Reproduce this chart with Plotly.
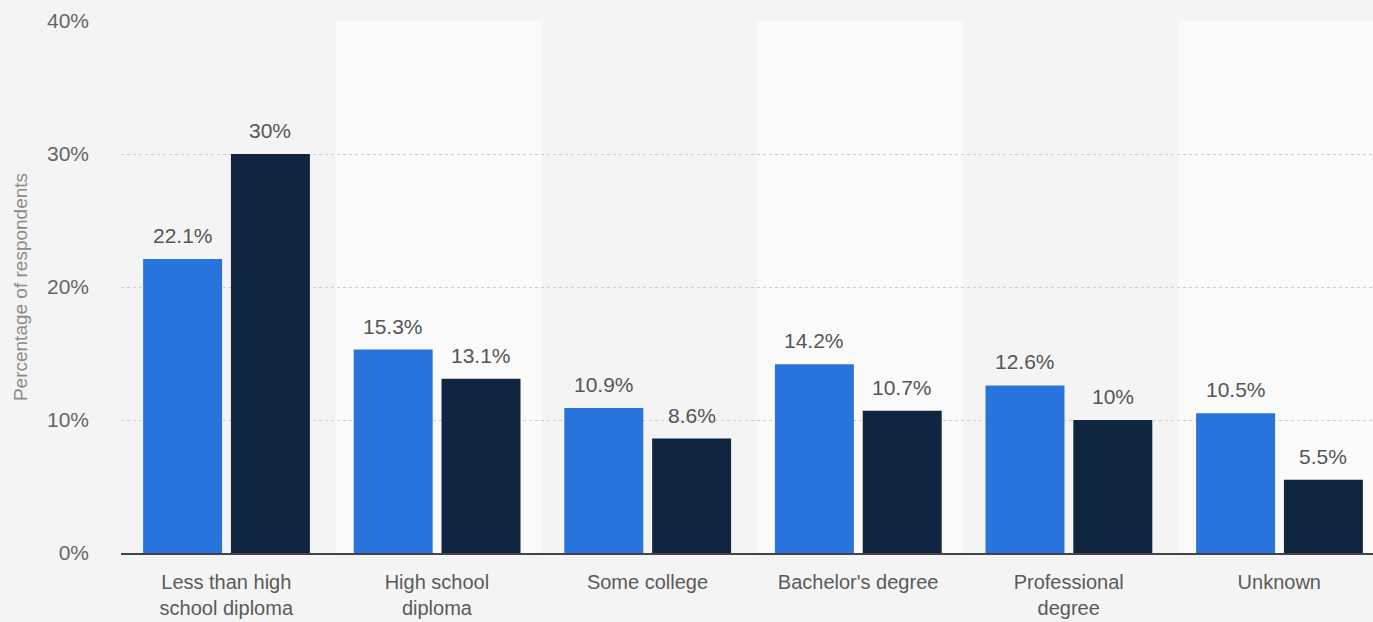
import plotly.graph_objects as go

categories = ["Less than high<br>school diploma", "High school<br>diploma", "Some college",
              "Bachelor's degree", "Professional<br>degree", "Unknown"]
series_a = [22.1, 15.3, 10.9, 14.2, 12.6, 10.5]
series_b = [30, 13.1, 8.6, 10.7, 10, 5.5]
y_ticks = [0, 10, 20, 30, 40]
y_tick_labels = ["0%", "10%", "20%", "30%", "40%"]

BLUE = "#2874dc"
DARK = "#10253f"
BG = "#f4f4f4"
BAND = "#fafafa"
FONT = "Liberation Sans, Arial, sans-serif"
BAR_W = 0.375
OFFS = [-0.395, 0.022]

xs = list(range(len(categories)))
fig = go.Figure()
annotations = []
for vals, color, off in [(series_a, BLUE, OFFS[0]), (series_b, DARK, OFFS[1])]:
    fig.add_trace(go.Bar(x=xs, y=vals, marker_color=color, marker_line_width=0,
                         width=BAR_W, offset=off, hoverinfo="skip"))
    for i, v in zip(xs, vals):
        annotations.append(dict(x=i + off + BAR_W / 2, y=v, xref="x", yref="y",
                                text=f"{v:g}%", showarrow=False, yanchor="bottom",
                                yshift=10, font=dict(size=21, color="#555555", family=FONT)))

shapes = []
for i in xs:
    if i % 2 == 1:
        shapes.append(dict(type="rect", xref="x", yref="paper", x0=i - 0.48, x1=i + 0.5,
                           y0=0, y1=1, fillcolor=BAND, line_width=0, layer="below"))

fig.update_layout(
    width=1373, height=622,
    margin=dict(l=121, r=0, t=21, b=69, autoexpand=False),
    paper_bgcolor=BG, plot_bgcolor=BG,
    showlegend=False, barmode="group",
    shapes=shapes, annotations=annotations,
    font=dict(family=FONT, color="#666666"),
)
fig.update_xaxes(range=[-0.5, 5.445], tickmode="array",
                 tickvals=xs, ticktext=categories, automargin=False,
                 showgrid=False, showline=True, linecolor="#444444", linewidth=2,
                 ticks="", tickfont=dict(size=20, color="#5a5a5a"),
                 ticklabelstandoff=10, zeroline=False)
fig.update_yaxes(range=[0, 40], tickmode="array", tickvals=y_ticks, ticktext=y_tick_labels,
                 showgrid=True, gridcolor="#cccccc", griddash="dot", gridwidth=1,
                 zeroline=False, tickfont=dict(size=21, color="#666666"),
                 ticklabelstandoff=31, automargin=False,
                 title=dict(text="Percentage of respondents", font=dict(size=19, color="#8a8a8a"),
                            standoff=14))

fig.write_html("out.html", config={"displayModeBar": False},
               post_script="document.body.style.margin='0';document.body.style.overflow='hidden';")
